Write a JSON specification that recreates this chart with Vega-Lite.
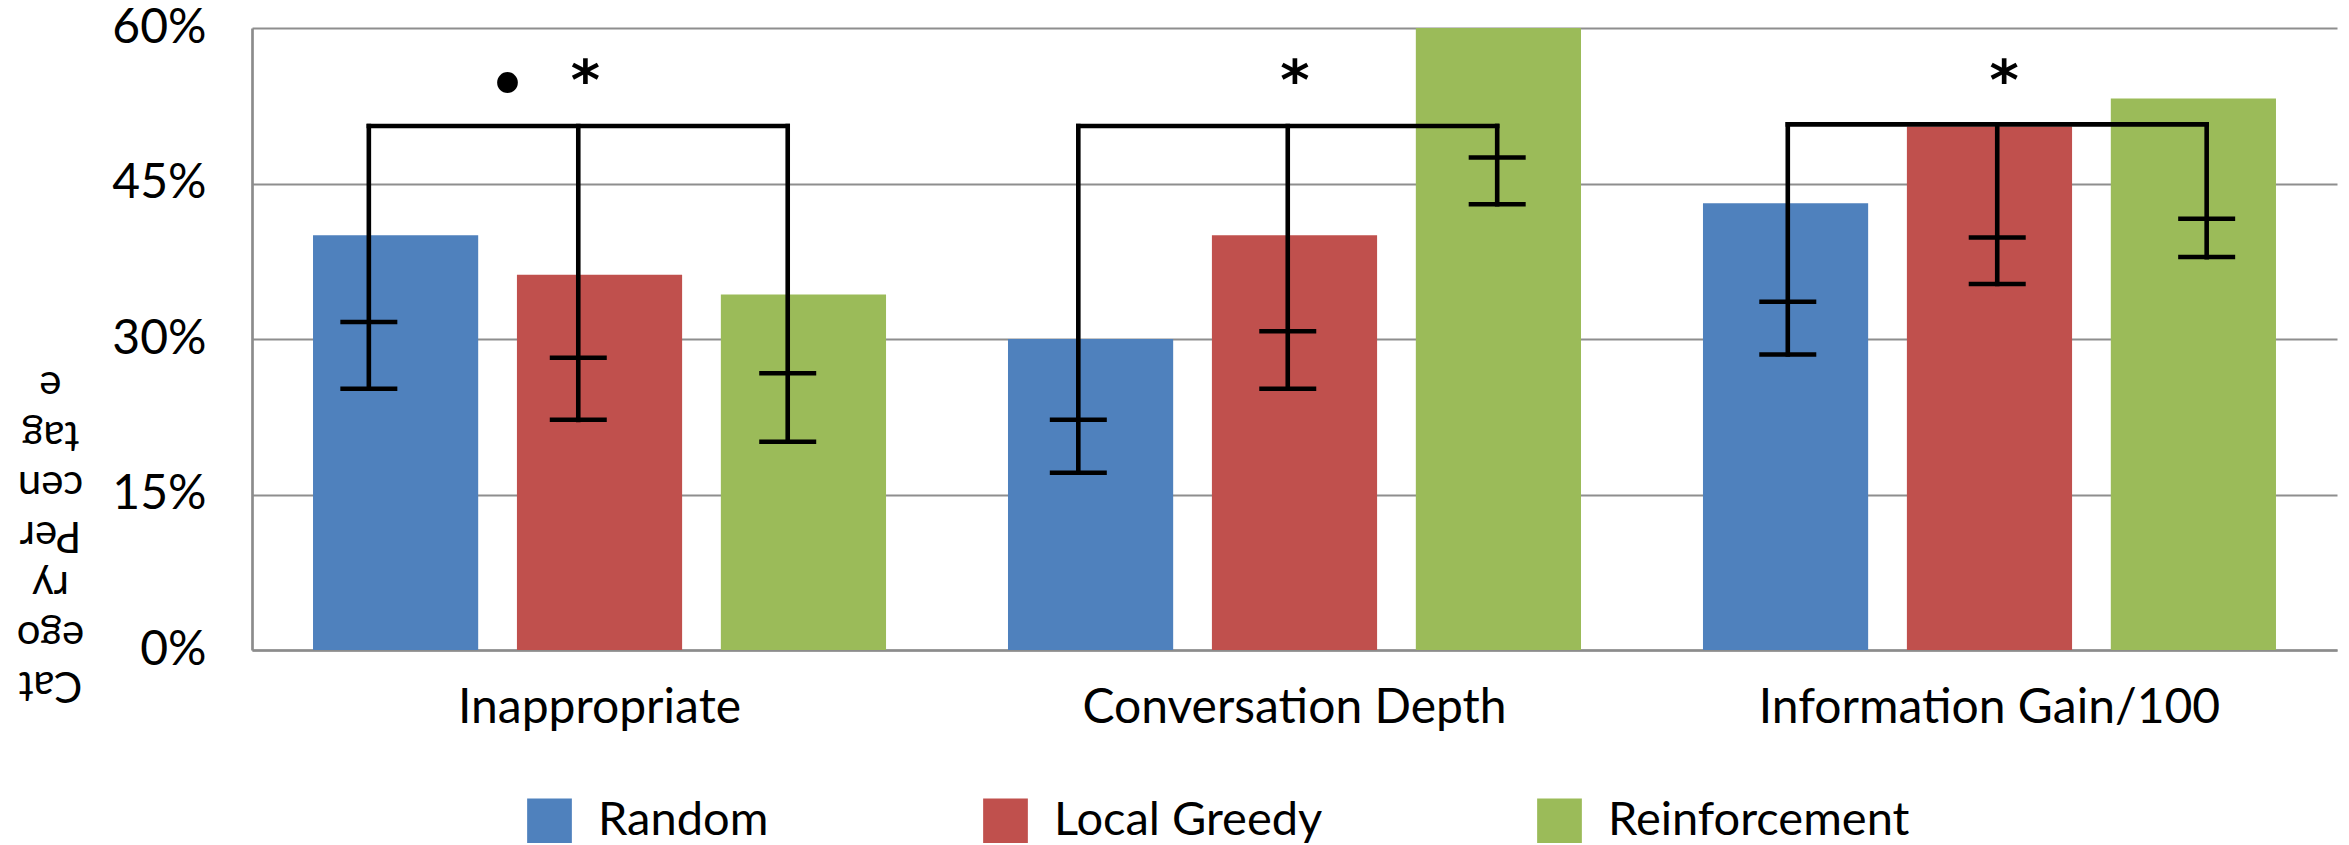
{
  "$schema": "https://vega.github.io/schema/vega-lite/v6.json",
  "width": 2085,
  "height": 622,
  "autosize": "none",
  "padding": {"left": 252, "top": 28, "right": 12, "bottom": 195},
  "background": "white",
  "config": {
    "view": {"stroke": null},
    "font": "Lato"
  },
  "datasets": {
    "scores": [
      {"category": "Inappropriate", "series": "Random", "value": 0.40, "lower": 0.252, "upper": 0.3165, "bracket": 0.5055},
      {"category": "Inappropriate", "series": "Local Greedy", "value": 0.362, "lower": 0.222, "upper": 0.282, "bracket": 0.5055},
      {"category": "Inappropriate", "series": "Reinforcement", "value": 0.343, "lower": 0.201, "upper": 0.267, "bracket": 0.5055},
      {"category": "Conversation Depth", "series": "Random", "value": 0.30, "lower": 0.171, "upper": 0.222, "bracket": 0.5055},
      {"category": "Conversation Depth", "series": "Local Greedy", "value": 0.40, "lower": 0.252, "upper": 0.3075, "bracket": 0.5055},
      {"category": "Conversation Depth", "series": "Reinforcement", "value": 0.60, "lower": 0.43, "upper": 0.475, "bracket": 0.5055},
      {"category": "Information Gain/100", "series": "Random", "value": 0.431, "lower": 0.285, "upper": 0.336, "bracket": 0.507},
      {"category": "Information Gain/100", "series": "Local Greedy", "value": 0.505, "lower": 0.353, "upper": 0.398, "bracket": 0.507},
      {"category": "Information Gain/100", "series": "Reinforcement", "value": 0.532, "lower": 0.379, "upper": 0.416, "bracket": 0.507}
    ],
    "significance": [
      {"category": "Inappropriate", "label": "•", "level": 0.548},
      {"category": "Inappropriate", "label": "*", "level": 0.5595},
      {"category": "Conversation Depth", "label": "*", "level": 0.5595},
      {"category": "Information Gain/100", "label": "*", "level": 0.5595}
    ]
  },
  "layer": [
    {
      "data": {"name": "scores"},
      "mark": {"type": "bar"},
      "encoding": {
        "x": {
          "field": "category",
          "type": "nominal",
          "sort": ["Inappropriate", "Conversation Depth", "Information Gain/100"],
          "scale": {"paddingInner": 0.1755, "paddingOuter": 0.0878},
          "axis": {
            "title": null,
            "labelAngle": 0,
            "labelFont": "Lato",
            "labelFontSize": 48,
            "labelColor": "black",
            "labelBaseline": "alphabetic",
            "labelPadding": 72,
            "labelLimit": 0,
            "ticks": false,
            "tickSize": 0,
            "domainColor": "#8c8c8c",
            "domainWidth": 2.7
          }
        },
        "xOffset": {
          "field": "series",
          "type": "nominal",
          "sort": ["Random", "Local Greedy", "Reinforcement"],
          "scale": {"paddingInner": 0.19, "paddingOuter": 0}
        },
        "y": {
          "field": "value",
          "type": "quantitative",
          "scale": {"domain": [0, 0.6], "nice": false},
          "axis": {
            "values": [0, 0.15, 0.3, 0.45, 0.6],
            "format": ".0%",
            "title": ["Cat", "ego", "ry", "Per", "cen", "tag", "e"],
            "titleAngle": 180,
            "titleFont": "Lato",
            "titleFontSize": 42,
            "titleFontWeight": "normal",
            "titleColor": "black",
            "titleLineHeight": 50,
            "titleAlign": "center",
            "titleBaseline": "middle",
            "titleLimit": 0,
            "titleX": -202,
            "titleY": 656,
            "labelFont": "Lato",
            "labelFontSize": 48,
            "labelColor": "black",
            "labelPadding": 46,
            "ticks": false,
            "tickSize": 0,
            "domainColor": "#8c8c8c",
            "domainWidth": 2.7,
            "grid": true,
            "gridColor": "#8e8e8e",
            "gridWidth": 2.2
          }
        },
        "color": {
          "field": "series",
          "type": "nominal",
          "sort": ["Random", "Local Greedy", "Reinforcement"],
          "scale": {"range": ["#4F81BD", "#C0504D", "#9BBB59"]},
          "legend": {
            "title": null,
            "orient": "none",
            "direction": "horizontal",
            "legendX": 274,
            "legendY": 769,
            "symbolType": "square",
            "symbolSize": 2000,
            "symbolStrokeWidth": 0,
            "labelFont": "Lato",
            "labelFontSize": 47,
            "labelColor": "black",
            "labelOffset": 25,
            "labelLimit": 0,
            "columnPadding": 213,
            "padding": 0
          }
        }
      }
    },
    {
      "layer": [
        {
          "data": {"name": "scores"},
          "mark": {"type": "rule", "color": "black", "strokeWidth": 4.6, "strokeCap": "square"},
          "encoding": {
            "x": {"field": "category", "type": "nominal", "sort": ["Inappropriate", "Conversation Depth", "Information Gain/100"], "scale": {"range": [-28.5, 2100], "paddingInner": 0.1755, "paddingOuter": 0.0878}, "axis": null},
            "xOffset": {"field": "series", "type": "nominal", "sort": ["Random", "Local Greedy", "Reinforcement"], "scale": {"paddingInner": 0.207, "paddingOuter": 0}},
            "y": {"field": "lower", "type": "quantitative"},
            "y2": {"field": "bracket"}
          }
        },
        {
          "data": {"name": "scores"},
          "mark": {"type": "tick", "color": "black", "orient": "horizontal", "size": 57, "thickness": 4.5, "opacity": 1},
          "encoding": {
            "x": {"field": "category", "type": "nominal", "sort": ["Inappropriate", "Conversation Depth", "Information Gain/100"], "axis": null},
            "xOffset": {"field": "series", "type": "nominal", "sort": ["Random", "Local Greedy", "Reinforcement"]},
            "y": {"field": "upper", "type": "quantitative"}
          }
        },
        {
          "data": {"name": "scores"},
          "mark": {"type": "tick", "color": "black", "orient": "horizontal", "size": 57, "thickness": 4.5, "opacity": 1},
          "encoding": {
            "x": {"field": "category", "type": "nominal", "sort": ["Inappropriate", "Conversation Depth", "Information Gain/100"], "axis": null},
            "xOffset": {"field": "series", "type": "nominal", "sort": ["Random", "Local Greedy", "Reinforcement"]},
            "y": {"field": "lower", "type": "quantitative"}
          }
        },
        {
          "data": {"name": "scores"},
          "transform": [{"filter": "datum.series === 'Local Greedy'"}],
          "mark": {"type": "rule", "color": "black", "strokeWidth": 4.6, "strokeCap": "square"},
          "encoding": {
            "x": {"field": "category", "type": "nominal", "sort": ["Inappropriate", "Conversation Depth", "Information Gain/100"], "bandPosition": 0.142, "axis": null},
            "x2": {"field": "category", "bandPosition": 0.858},
            "y": {"field": "bracket", "type": "quantitative"}
          }
        },
        {
          "data": {"name": "significance"},
          "transform": [{"filter": "datum.label === '*'"}],
          "mark": {"type": "text", "font": "DejaVu Sans", "fontWeight": "bold", "fontSize": 56, "color": "black", "baseline": "alphabetic", "align": "center", "dy": 29},
          "encoding": {
            "x": {"field": "category", "type": "nominal", "sort": ["Inappropriate", "Conversation Depth", "Information Gain/100"], "bandPosition": 0.512, "axis": null},
            "y": {"field": "level", "type": "quantitative"},
            "text": {"field": "label"}
          }
        },
        {
          "data": {"name": "significance"},
          "transform": [{"filter": "datum.label === '•'"}],
          "mark": {"type": "text", "font": "Lato", "fontSize": 56, "color": "black", "baseline": "middle", "align": "center"},
          "encoding": {
            "x": {"field": "category", "type": "nominal", "sort": ["Inappropriate", "Conversation Depth", "Information Gain/100"], "bandPosition": 0.379, "axis": null},
            "y": {"field": "level", "type": "quantitative"},
            "text": {"field": "label"}
          }
        }
      ]
    }
  ],
  "resolve": {"scale": {"x": "independent", "xOffset": "independent"}}
}
